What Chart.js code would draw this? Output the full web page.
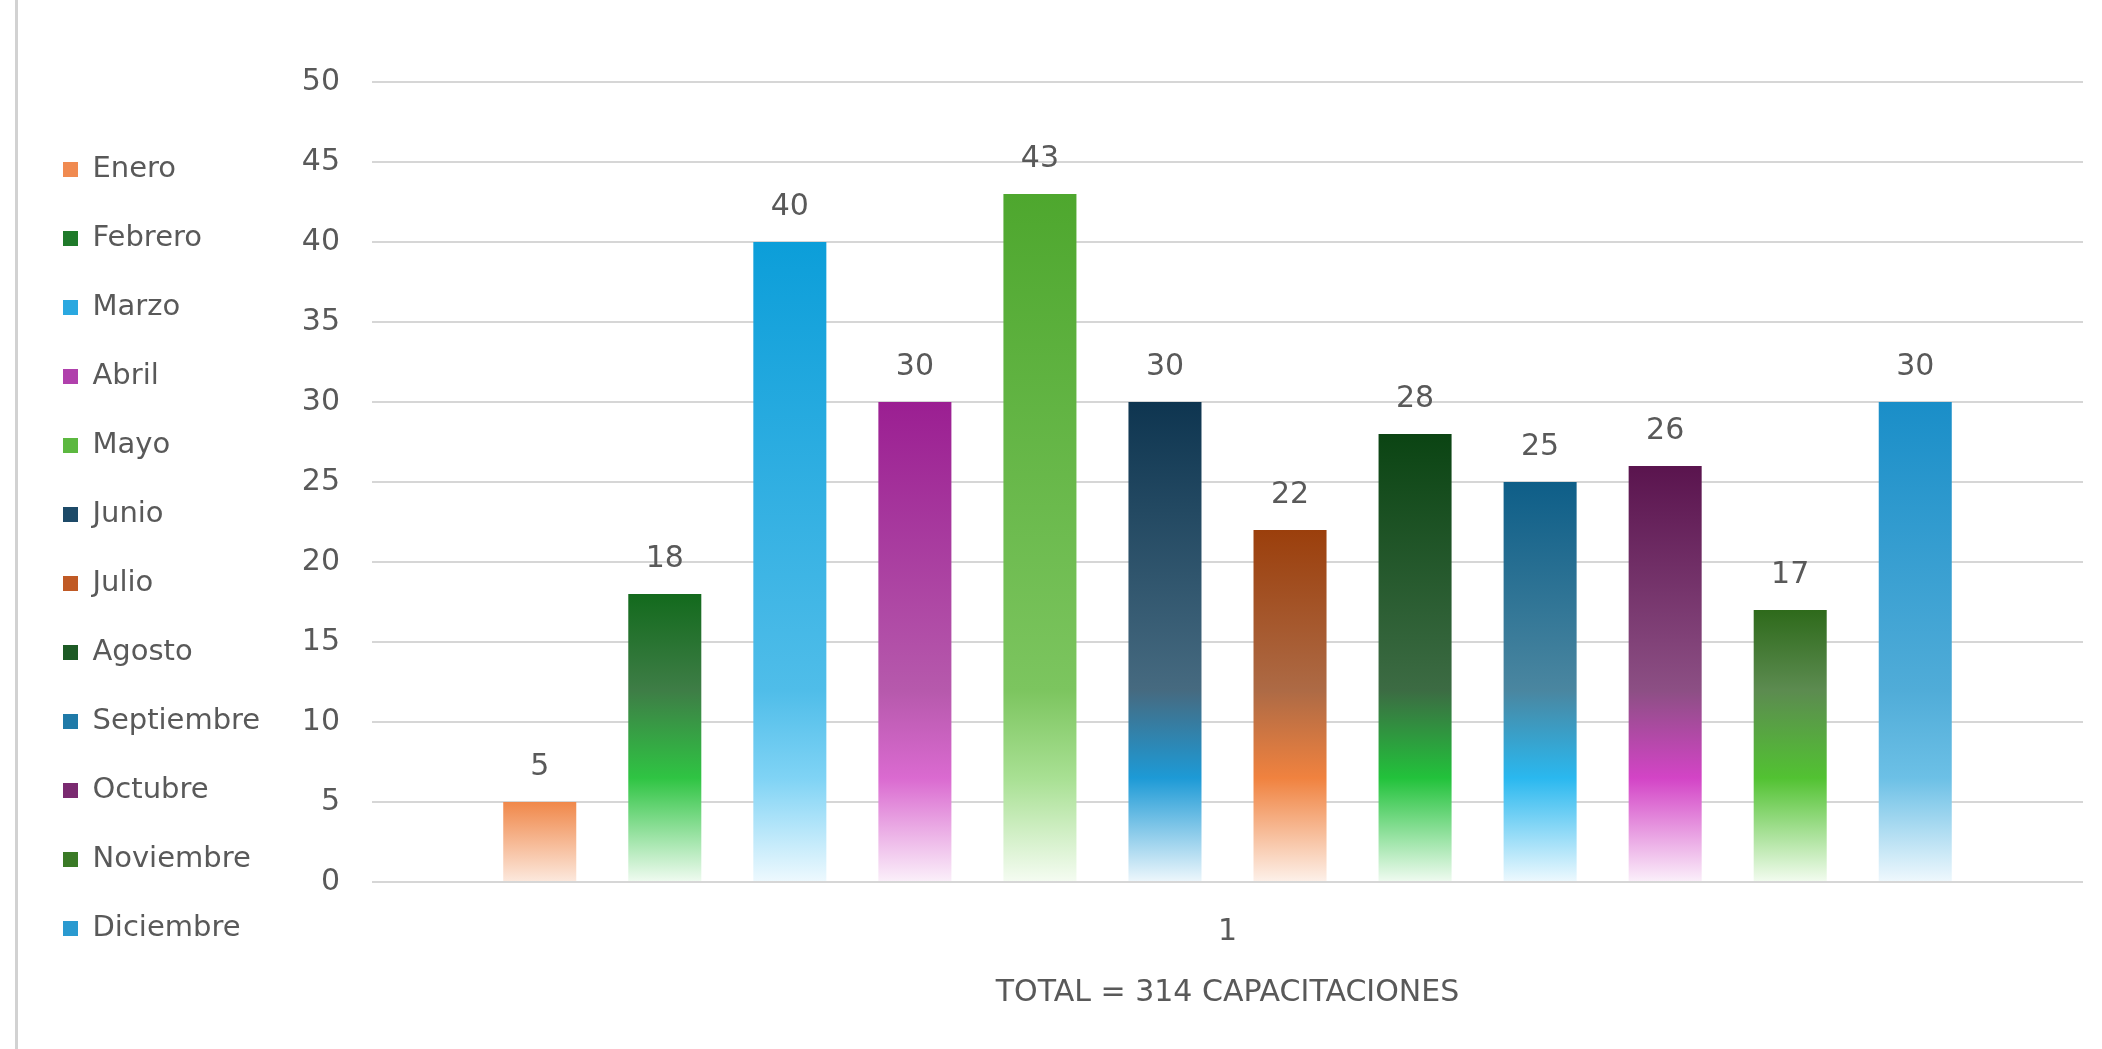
<!DOCTYPE html>
<html>
<head>
<meta charset="utf-8">
<script src="https://cdn.jsdelivr.net/npm/chart.js@4.4.1/dist/chart.umd.min.js"></script>
<style>
  html, body { margin: 0; padding: 0; background: #ffffff; }
  #wrap { position: relative; width: 2102px; height: 1049px; overflow: hidden; }
  #edge { position: absolute; left: 15px; top: 0; width: 3px; height: 1049px; background: #d2d2d2; }
  canvas { position: absolute; left: 0; top: 0; }
</style>
</head>
<body>
<div id="wrap">
  <canvas id="c" width="2102" height="1049"></canvas>
  <div id="edge"></div>
</div>
<script>
// ---- data ----
const categories = ['1'];
const months = ['Enero', 'Febrero', 'Marzo', 'Abril', 'Mayo', 'Junio', 'Julio', 'Agosto', 'Septiembre', 'Octubre', 'Noviembre', 'Diciembre'];
const values = [5, 18, 40, 30, 43, 30, 22, 28, 25, 26, 17, 30];
const yTicks = { min: 0, max: 50, step: 5 };
const xTitle = 'TOTAL = 314 CAPACITACIONES';

// ---- styles: [top, middle, bright, pale] ----
const barColors = [
  ['#ef8648', '#ef8648', '#f0884a', '#fce9de'],
  ['#136a1d', '#3e7d46', '#2fc443', '#f0fbf1'],
  ['#0c9ed9', '#4fbde9', '#7fd3f5', '#eef9fe'],
  ['#9b1f92', '#b659ac', '#da6ad0', '#fbf0fa'],
  ['#4ea72e', '#7cc55f', '#a8e093', '#f5fcf2'],
  ['#0e3550', '#466a80', '#1d9ad6', '#eef7fc'],
  ['#9b3f0c', '#ad6a45', '#f0823f', '#fdf1ea'],
  ['#0b4413', '#3c6b43', '#22c23b', '#f0fbf1'],
  ['#0e5e88', '#4a86a0', '#2ab8ef', '#eef9fe'],
  ['#5a144e', '#8c4f84', '#d344c6', '#fbf0fa'],
  ['#2e6a1b', '#5c8b50', '#52c232', '#f3fcf0'],
  ['#1a8ec8', '#50acd8', '#6cc0e6', '#eff8fd']
];
const legendColors = ['#f08a50', '#1f7a2a', '#2aa8e0', '#b040ac', '#5cb840', '#1d4a68',
                      '#c05a25', '#1d5a25', '#1f7aa8', '#7a2a70', '#3a7a26', '#2a9ad0'];

const FONT = 'DejaVu Sans';
const TEXT = '#595959';
const legendFontSize = 29;
const legendPad = 40;
const legendBox = 15;
const padLeft = 23;
const plotLeft = 372;

function barGradient(ctx, i) {
  const cols = barColors[i];
  const chart = ctx.chart;
  if (!chart.chartArea || ctx.type !== 'data') return cols[1];
  const v = ctx.raw;
  const ys = chart.scales.y;
  const yTop = ys.getPixelForValue(v);
  const yBot = ys.getPixelForValue(0);
  if (!isFinite(yTop) || !isFinite(yBot) || yBot - yTop < 1) return cols[1];
  const g = chart.ctx.createLinearGradient(0, yTop, 0, yBot);
  const t = (val) => Math.min(1, Math.max(0, (v - val) / v));
  if (v > 12) {
    g.addColorStop(0, cols[0]);
    g.addColorStop(t(12), cols[1]);
    g.addColorStop(t(6.5), cols[2]);
    g.addColorStop(1, cols[3]);
  } else {
    g.addColorStop(0, cols[2]);
    g.addColorStop(1, cols[3]);
  }
  return g;
}

const datasets = months.map((m, i) => ({
  label: m,
  data: [values[i]],
  backgroundColor: (ctx) => barGradient(ctx, i),
  borderWidth: 0,
  barPercentage: 0.584,
  categoryPercentage: 0.877
}));

const valueLabels = {
  id: 'valueLabels',
  afterDatasetsDraw(chart) {
    const c = chart.ctx;
    c.save();
    c.font = `normal 30px "${FONT}"`;
    c.fillStyle = TEXT;
    c.textAlign = 'center';
    c.textBaseline = 'middle';
    chart.data.datasets.forEach((ds, i) => {
      const meta = chart.getDatasetMeta(i);
      meta.data.forEach((el, j) => {
        c.fillText(String(ds.data[j]), el.x, el.y - 35);
      });
    });
    c.restore();
  }
};

new Chart(document.getElementById('c'), {
  type: 'bar',
  data: { labels: categories, datasets },
  options: {
    responsive: false,
    animation: false,
    devicePixelRatio: 1,
    layout: { padding: { left: padLeft, right: 19, top: 82, bottom: 33 } },
    plugins: {
      tooltip: { enabled: false },
      legend: {
        position: 'left',
        align: 'center',
        labels: {
          font: { family: FONT, size: legendFontSize },
          color: TEXT,
          boxWidth: legendBox,
          boxHeight: 15,
          padding: legendPad,
          generateLabels: (chart) => months.map((m, i) => ({
            text: m,
            fillStyle: legendColors[i],
            strokeStyle: legendColors[i],
            lineWidth: 0,
            hidden: false,
            datasetIndex: i,
            fontColor: TEXT
          }))
        }
      }
    },
    scales: {
      x: {
        grid: { display: false, drawTicks: false },
        border: { display: false },
        ticks: { color: TEXT, font: { family: FONT, size: 30 }, padding: 32 },
        title: {
          display: true,
          text: xTitle,
          color: TEXT,
          font: { family: FONT, size: 30 },
          padding: { top: -7, bottom: 5 }
        }
      },
      y: {
        min: yTicks.min,
        max: yTicks.max,
        ticks: { stepSize: yTicks.step, color: TEXT, font: { family: FONT, size: 30 }, padding: 32 },
        grid: { color: '#d6d6d6', lineWidth: 2, drawTicks: false },
        border: { display: false },
        afterFit: (scale) => {
          const lg = scale.chart.legend;
          const lw = lg && lg.width ? lg.width : 250;
          scale.width = plotLeft - padLeft - lw;
        }
      }
    }
  },
  plugins: [valueLabels]
});
</script>
</body>
</html>
